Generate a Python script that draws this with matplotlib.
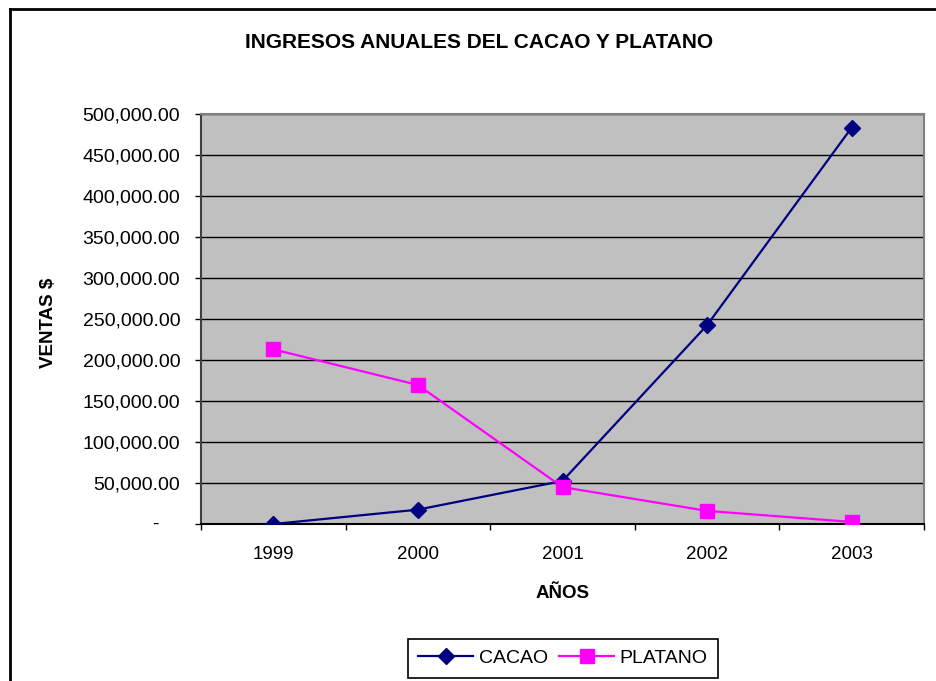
import numpy as np
import matplotlib
matplotlib.use("Agg")
import matplotlib.pyplot as plt
from matplotlib.lines import Line2D
from matplotlib.ticker import FuncFormatter, MultipleLocator, FixedLocator

plt.rcParams['font.family'] = ['Liberation Sans', 'DejaVu Sans']

years = ['1999', '2000', '2001', '2002', '2003']
cacao = [0, 17500, 52500, 242500, 483500]
platano = [213000, 169500, 45000, 16000, 2500]

fig = plt.figure(figsize=(9.37, 6.81), dpi=100)
ax = fig.add_axes([201 / 937, 1 - 524 / 681, 723 / 937, 410 / 681])
ax.set_facecolor('#C0C0C0')

x = np.arange(len(years))
ax.plot(x, cacao, color='#000080', lw=1.6, marker='D', ms=8,
        mfc='#000080', mec='#000080', label='CACAO', zorder=3)
ax.plot(x, platano, color='#FF00FF', lw=1.6, marker='s', ms=10,
        mfc='#FF00FF', mec='#FF00FF', label='PLATANO', zorder=3)

ax.set_xlim(-0.5, len(years) - 0.5)
ax.set_ylim(0, 500000)

# category axis: ticks between categories, labels centred
ax.xaxis.set_major_locator(FixedLocator(np.arange(-0.5, len(years), 1.0)))
ax.xaxis.set_major_formatter(FuncFormatter(lambda v, p: ''))
ax.set_xticks(x, years, minor=True)
ax.tick_params(axis='x', which='minor', length=0, labelsize=13.5, pad=15.5)
ax.tick_params(axis='x', which='major', length=4, width=1, color='#000000')

ax.yaxis.set_major_locator(MultipleLocator(50000))
ax.yaxis.set_major_formatter(FuncFormatter(lambda v, p: '' if v == 0 else f'{v:,.2f}'))
ax.tick_params(axis='y', length=4, width=1, labelsize=14, pad=11)
ax.text(-0.063, 0, '-', transform=ax.get_yaxis_transform(), ha='center',
        va='center', fontsize=14)

ax.grid(axis='y', color='#000000', lw=1, zorder=1)
ax.set_axisbelow(True)

for s in ['top', 'right']:
    ax.spines[s].set_color('#808080')
    ax.spines[s].set_linewidth(1.5)
ax.spines['left'].set_color('#404040')
ax.spines['left'].set_linewidth(1.5)
ax.spines['bottom'].set_color('#000000')
ax.spines['bottom'].set_linewidth(1.5)

fig.text(479 / 937, 1 - 43 / 681, 'INGRESOS ANUALES DEL CACAO Y PLATANO',
         ha='center', va='center', fontsize=15, fontweight='bold')
fig.text(49 / 937, 1 - 323 / 681, 'VENTAS $', rotation=90, ha='center',
         va='center', fontsize=13.5, fontweight='bold')
fig.text(563 / 937, 1 - 593 / 681, 'AÑOS', ha='center', va='center',
         fontsize=13.5, fontweight='bold')

leg = fig.legend(loc='center', bbox_to_anchor=(563 / 937, 1 - 658 / 681),
                 ncol=2, fontsize=14, frameon=True, fancybox=False,
                 edgecolor='#000000', framealpha=1, handlelength=2.8,
                 columnspacing=0.6, handletextpad=0.3, borderpad=0.55,
                 borderaxespad=0)
leg.get_frame().set_linewidth(1.2)

# chart area border (top and left only visible)
fig.add_artist(Line2D([10 / 937, 1], [1 - 9 / 681, 1 - 9 / 681],
                      transform=fig.transFigure, color='#000000', lw=2))
fig.add_artist(Line2D([10 / 937, 10 / 937], [0, 1 - 9 / 681],
                      transform=fig.transFigure, color='#000000', lw=2))

fig.savefig('out.png', dpi=100)
